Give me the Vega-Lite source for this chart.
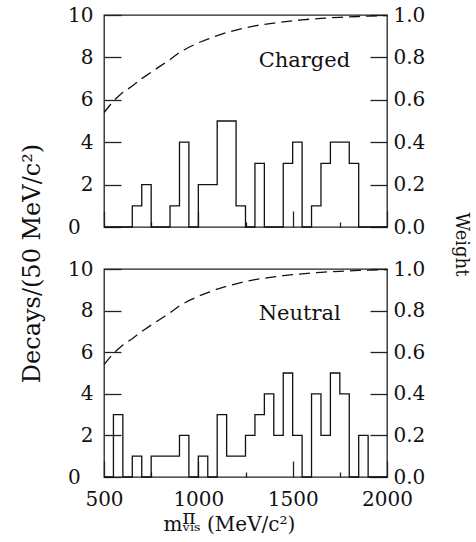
{
  "$schema": "https://vega.github.io/schema/vega-lite/v6.json",
  "background": "white",
  "padding": {"left": 19, "top": 4, "right": 5, "bottom": 5},
  "datasets": {
    "hist": [
      {"panel": "Charged", "m": 500, "n": 0}, {"panel": "Charged", "m": 550, "n": 0}, {"panel": "Charged", "m": 600, "n": 0},
      {"panel": "Charged", "m": 650, "n": 1}, {"panel": "Charged", "m": 700, "n": 2}, {"panel": "Charged", "m": 750, "n": 0},
      {"panel": "Charged", "m": 800, "n": 0}, {"panel": "Charged", "m": 850, "n": 1}, {"panel": "Charged", "m": 900, "n": 4},
      {"panel": "Charged", "m": 950, "n": 0}, {"panel": "Charged", "m": 1000, "n": 2}, {"panel": "Charged", "m": 1050, "n": 2},
      {"panel": "Charged", "m": 1100, "n": 5}, {"panel": "Charged", "m": 1150, "n": 5}, {"panel": "Charged", "m": 1200, "n": 1},
      {"panel": "Charged", "m": 1250, "n": 0}, {"panel": "Charged", "m": 1300, "n": 3}, {"panel": "Charged", "m": 1350, "n": 0},
      {"panel": "Charged", "m": 1400, "n": 0}, {"panel": "Charged", "m": 1450, "n": 3}, {"panel": "Charged", "m": 1500, "n": 4},
      {"panel": "Charged", "m": 1550, "n": 0}, {"panel": "Charged", "m": 1600, "n": 1}, {"panel": "Charged", "m": 1650, "n": 3},
      {"panel": "Charged", "m": 1700, "n": 4}, {"panel": "Charged", "m": 1750, "n": 4}, {"panel": "Charged", "m": 1800, "n": 3},
      {"panel": "Charged", "m": 1850, "n": 0}, {"panel": "Charged", "m": 1900, "n": 0}, {"panel": "Charged", "m": 1950, "n": 0},
      {"panel": "Charged", "m": 2000, "n": 0},
      {"panel": "Neutral", "m": 500, "n": 0}, {"panel": "Neutral", "m": 550, "n": 3}, {"panel": "Neutral", "m": 600, "n": 0},
      {"panel": "Neutral", "m": 650, "n": 1}, {"panel": "Neutral", "m": 700, "n": 0}, {"panel": "Neutral", "m": 750, "n": 1},
      {"panel": "Neutral", "m": 800, "n": 1}, {"panel": "Neutral", "m": 850, "n": 1}, {"panel": "Neutral", "m": 900, "n": 2},
      {"panel": "Neutral", "m": 950, "n": 0}, {"panel": "Neutral", "m": 1000, "n": 1}, {"panel": "Neutral", "m": 1050, "n": 0},
      {"panel": "Neutral", "m": 1100, "n": 3}, {"panel": "Neutral", "m": 1150, "n": 1}, {"panel": "Neutral", "m": 1200, "n": 1},
      {"panel": "Neutral", "m": 1250, "n": 2}, {"panel": "Neutral", "m": 1300, "n": 3}, {"panel": "Neutral", "m": 1350, "n": 4},
      {"panel": "Neutral", "m": 1400, "n": 2}, {"panel": "Neutral", "m": 1450, "n": 5}, {"panel": "Neutral", "m": 1500, "n": 2},
      {"panel": "Neutral", "m": 1550, "n": 0}, {"panel": "Neutral", "m": 1600, "n": 4}, {"panel": "Neutral", "m": 1650, "n": 2},
      {"panel": "Neutral", "m": 1700, "n": 5}, {"panel": "Neutral", "m": 1750, "n": 4}, {"panel": "Neutral", "m": 1800, "n": 0},
      {"panel": "Neutral", "m": 1850, "n": 2}, {"panel": "Neutral", "m": 1900, "n": 0}, {"panel": "Neutral", "m": 1950, "n": 0},
      {"panel": "Neutral", "m": 2000, "n": 0}
    ],
    "weight": [
      {"m": 500, "w": 0.54}, {"m": 550, "w": 0.595}, {"m": 600, "w": 0.635}, {"m": 650, "w": 0.665},
      {"m": 700, "w": 0.70}, {"m": 750, "w": 0.73}, {"m": 800, "w": 0.76}, {"m": 850, "w": 0.79},
      {"m": 900, "w": 0.823}, {"m": 950, "w": 0.848}, {"m": 1000, "w": 0.869}, {"m": 1050, "w": 0.886},
      {"m": 1100, "w": 0.903}, {"m": 1150, "w": 0.917}, {"m": 1200, "w": 0.929}, {"m": 1250, "w": 0.94},
      {"m": 1300, "w": 0.949}, {"m": 1350, "w": 0.956}, {"m": 1400, "w": 0.962}, {"m": 1450, "w": 0.968},
      {"m": 1500, "w": 0.973}, {"m": 1550, "w": 0.977}, {"m": 1600, "w": 0.981}, {"m": 1650, "w": 0.984},
      {"m": 1700, "w": 0.987}, {"m": 1750, "w": 0.989}, {"m": 1800, "w": 0.991}, {"m": 1850, "w": 0.993},
      {"m": 1900, "w": 0.995}, {"m": 1950, "w": 0.996}, {"m": 2000, "w": 0.997}
    ],
    "labels": [{"panel": "Charged"}, {"panel": "Neutral"}]
  },
  "spacing": 42,
  "bounds": "flush",
  "vconcat": [
    {
      "width": 283,
      "height": 212,
      "layer": [
        {
          "layer": [
            {
              "data": {"name": "hist"},
              "transform": [{"filter": "datum.panel === 'Charged'"}],
              "mark": {"type": "line", "interpolate": "step-after", "color": "#111", "strokeWidth": 1.3},
              "encoding": {
                "x": {"field": "m", "type": "quantitative", "scale": {"domain": [500, 2000], "nice": false, "zero": false},
                  "axis": {"orient": "bottom", "values": [500, 1000, 1500, 2000], "labels": false, "title": null, "tickSize": -16}},
                "y": {"field": "n", "type": "quantitative", "scale": {"domain": [0, 10], "nice": false},
                  "axis": {"values": [0, 2, 4, 6, 8, 10], "tickSize": -17, "labelOverlap": false, "labelPadding": 28,
                    "labelExpr": "datum.value === 0 ? '0\u00a0\u00a0\u200b' : datum.label",
                    "title": "Decays/(50 MeV/c²)", "titleFontSize": 24, "titleX": -60, "titleY": 248}}
              }
            },
            {
              "data": {"name": "labels"},
              "transform": [{"filter": "datum.panel === 'Charged'"}],
              "mark": {"type": "text", "align": "left", "baseline": "alphabetic", "fontSize": 21, "color": "#111"},
              "encoding": {
                "x": {"datum": 1320},
                "y": {"datum": 7.55},
                "text": {"field": "panel"}
              }
            }
          ]
        },
        {
          "data": {"name": "weight"},
          "mark": {"type": "line", "strokeDash": [11, 6], "color": "#111", "strokeWidth": 1.3},
          "encoding": {
            "x": {"field": "m", "type": "quantitative",
              "axis": {"orient": "bottom", "values": [750, 1250, 1750], "labels": false, "title": null, "tickSize": -5}},
            "y": {"field": "w", "type": "quantitative", "scale": {"domain": [0, 1], "nice": false},
              "axis": {"orient": "right", "values": [0, 0.2, 0.4, 0.6, 0.8, 1], "format": ".1f", "tickSize": -17,
                "labelPadding": 23, "labelOverlap": false, "title": "Weight", "titleFontSize": 18, "titleX": 64, "titleY": 229}}
          }
        }
      ],
      "resolve": {"scale": {"y": "independent"}, "axis": {"x": "independent"}}
    },
    {
      "width": 283,
      "height": 208,
      "layer": [
        {
          "layer": [
            {
              "data": {"name": "hist"},
              "transform": [{"filter": "datum.panel === 'Neutral'"}],
              "mark": {"type": "line", "interpolate": "step-after", "color": "#111", "strokeWidth": 1.3},
              "encoding": {
                "x": {"field": "m", "type": "quantitative", "scale": {"domain": [500, 2000], "nice": false, "zero": false},
                  "axis": {"orient": "bottom", "values": [500, 1000, 1500, 2000], "format": "d", "labelFlush": false, "labelOverlap": false,
                    "tickSize": -16, "labelPadding": 28,
                    "title": ["\u200b\u00a0\u00a0\u00a0π", "mᵥᵢₛ (MeV/c²)"],
                    "titleAlign": "left", "titleAnchor": "start", "titleX": 59,
                    "titleLineHeight": 7, "titleBaseline": "top", "titleY": 30}},
                "y": {"field": "n", "type": "quantitative", "scale": {"domain": [0, 10], "nice": false},
                  "axis": {"values": [0, 2, 4, 6, 8, 10], "tickSize": -17, "labelOverlap": false, "labelPadding": 28,
                    "labelExpr": "datum.value === 0 ? '0\u00a0\u00a0\u200b' : datum.label",
                    "title": null}}
              }
            },
            {
              "data": {"name": "labels"},
              "transform": [{"filter": "datum.panel === 'Neutral'"}],
              "mark": {"type": "text", "align": "left", "baseline": "alphabetic", "fontSize": 21, "color": "#111"},
              "encoding": {
                "x": {"datum": 1320},
                "y": {"datum": 7.55},
                "text": {"field": "panel"}
              }
            }
          ]
        },
        {
          "data": {"name": "weight"},
          "mark": {"type": "line", "strokeDash": [11, 6], "color": "#111", "strokeWidth": 1.3},
          "encoding": {
            "x": {"field": "m", "type": "quantitative",
              "axis": {"orient": "bottom", "values": [750, 1250, 1750], "labels": false, "title": null, "tickSize": -5}},
            "y": {"field": "w", "type": "quantitative", "scale": {"domain": [0, 1], "nice": false},
              "axis": {"orient": "right", "values": [0, 0.2, 0.4, 0.6, 0.8, 1], "format": ".1f", "tickSize": -17,
                "labelPadding": 23, "labelOverlap": false, "title": null}}
          }
        }
      ],
      "resolve": {"scale": {"y": "independent"}, "axis": {"x": "independent"}}
    }
  ],
  "config": {
    "font": "DejaVu Serif",
    "view": {"stroke": "#222", "strokeWidth": 1.3},
    "axis": {
      "labelFont": "DejaVu Serif", "titleFont": "DejaVu Serif",
      "labelFontSize": 20, "titleFontSize": 20, "titleFontWeight": "normal",
      "labelColor": "#111", "titleColor": "#111", "tickColor": "#222", "tickWidth": 1.3,
      "grid": false, "domain": false
    }
  }
}
